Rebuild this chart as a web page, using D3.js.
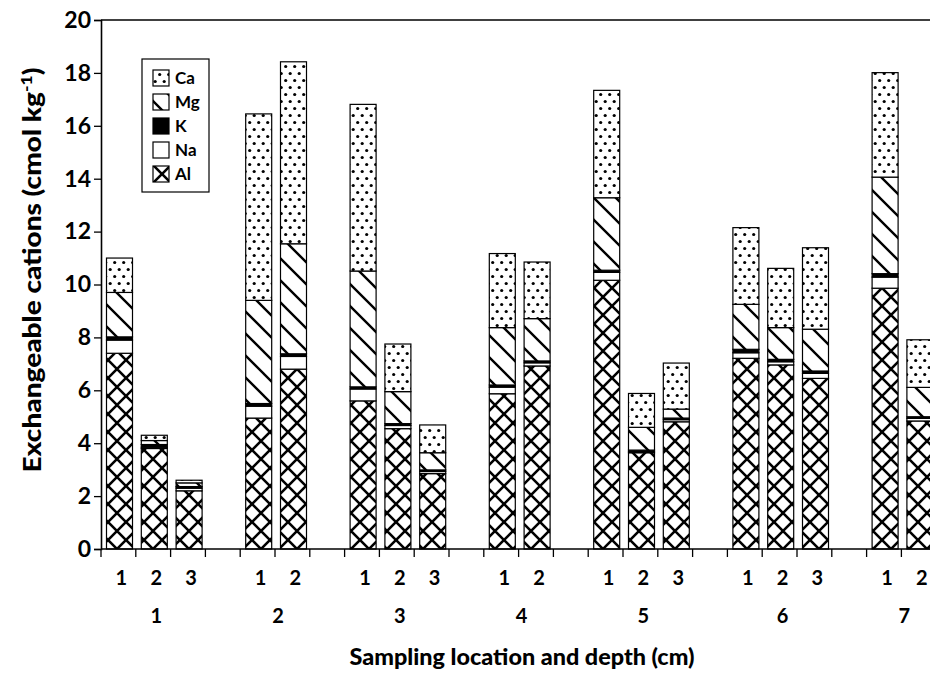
<!DOCTYPE html>
<html>
<head>
<meta charset="utf-8">
<script src="https://cdn.jsdelivr.net/npm/d3@7/dist/d3.min.js"></script>
<style>
    body { margin: 0; background: #fff; }
    svg { display: block; }
    text { font-family: Lato, 'DejaVu Sans', sans-serif; fill: #000; }
</style>
</head>
<body>
<svg id="chart" width="930" height="673"></svg>
<script>
'use strict';

// sampling locations and the depths taken at each one
var locations = ['1', '2', '3', '4', '5', '6', '7'];
var depthCounts = [3, 2, 3, 2, 3, 3, 2];

// cation series, one value per bar (cmol kg-1), bottom to top of each stack
var alValues = [7.40, 3.80, 2.20, 4.95, 6.80, 5.60, 4.55, 2.85, 5.87, 6.92, 10.16, 3.64, 4.81, 7.21, 6.96, 6.45, 9.86, 4.84];
var naValues = [0.50, 0.05, 0.10, 0.45, 0.48, 0.45, 0.12, 0.08, 0.25, 0.12, 0.30, 0.04, 0.08, 0.21, 0.12, 0.19, 0.42, 0.10];
var kValues  = [0.12, 0.10, 0.06, 0.10, 0.10, 0.08, 0.07, 0.06, 0.08, 0.07, 0.08, 0.06, 0.06, 0.13, 0.09, 0.09, 0.13, 0.06];
var mgValues = [1.68, 0.15, 0.14, 3.90, 4.16, 4.38, 1.21, 0.65, 2.17, 1.60, 2.74, 0.86, 0.34, 1.70, 1.20, 1.58, 3.65, 1.11];
var caValues = [1.30, 0.20, 0.10, 7.05, 6.88, 6.30, 1.80, 1.05, 2.80, 2.14, 4.06, 1.28, 1.74, 2.90, 2.24, 3.08, 3.95, 1.80];

var seriesKeys = ['Al', 'Na', 'K', 'Mg', 'Ca'];
var legendKeys = ['Ca', 'Mg', 'K', 'Na', 'Al'];
var yTicks = [0, 2, 4, 6, 8, 10, 12, 14, 16, 18, 20];

var svg = d3.select('#chart');

// ---- fill patterns ----
var defs = svg.append('defs');

function addPattern(id, size, draw) {
    var p = defs.append('pattern')
        .attr('id', id)
        .attr('patternUnits', 'userSpaceOnUse')
        .attr('width', size[0])
        .attr('height', size[1]);
    p.append('rect')
        .attr('width', size[0])
        .attr('height', size[1])
        .attr('fill', '#fff');
    draw(p);
}

addPattern('pat-Ca', [9, 14], function(p) {
    p.append('circle').attr('cx', 2.2).attr('cy', 3.5).attr('r', 1.6).attr('fill', '#000');
    p.append('circle').attr('cx', 6.7).attr('cy', 10.5).attr('r', 1.6).attr('fill', '#000');
});

addPattern('pat-Mg', [22, 22], function(p) {
    p.append('path')
        .attr('d', 'M-1,-1L23,23M21,-1L23,1M-1,21L1,23')
        .attr('stroke', '#000')
        .attr('stroke-width', 2.4);
});

addPattern('pat-Al', [18, 18], function(p) {
    p.append('path')
        .attr('d', 'M-1,-1L19,19M19,-1L-1,19')
        .attr('stroke', '#000')
        .attr('stroke-width', 2.6);
});

var fills = {
    Ca: 'url(#pat-Ca)',
    Mg: 'url(#pat-Mg)',
    K: '#000',
    Na: '#fff',
    Al: 'url(#pat-Al)'
};

// ---- bar slots: each location's bars followed by an empty gap slot ----
var bars = [];
var slots = [];
var groupInfo = [];
var barIndex = 0;

locations.forEach(function(loc, gi) {
    var first = slots.length;
    for (var d = 0; d < depthCounts[gi]; d++) {
        var slot = slots.length;
        slots.push(slot);
        bars.push({
            slot: slot,
            depth: String(d + 1),
            Al: alValues[barIndex],
            Na: naValues[barIndex],
            K: kValues[barIndex],
            Mg: mgValues[barIndex],
            Ca: caValues[barIndex]
        });
        barIndex++;
    }
    groupInfo.push({label: loc, first: first, last: slots.length - 1});
    if (gi < locations.length - 1) {
        slots.push(slots.length);
    }
});

var x = d3.scaleBand()
    .domain(slots)
    .range([101, 101 + 34.8 * slots.length])
    .padding(0);

var y = d3.scaleLinear()
    .domain([0, 20])
    .range([549, 20]);

var barOffset = 5.5;
var barWidth = 26;

var stacked = d3.stack().keys(seriesKeys)(bars);

var layers = svg.append('g').attr('class', 'bars');

stacked.forEach(function(layer) {
    layers.append('g')
        .selectAll('rect')
        .data(layer)
        .join('rect')
        .attr('x', function(d) { return x(d.data.slot) + barOffset; })
        .attr('y', function(d) { return y(d[1]); })
        .attr('width', barWidth)
        .attr('height', function(d) { return y(d[0]) - y(d[1]); })
        .attr('fill', fills[layer.key])
        .attr('stroke', '#000')
        .attr('stroke-width', 1.2);
});

// ---- axes ----
var axisG = svg.append('g').attr('class', 'axes');

var yAxis = d3.axisLeft(y)
    .tickValues(yTicks)
    .tickSize(7)
    .tickPadding(3)
    .tickFormat(d3.format('d'));

axisG.append('g')
    .attr('transform', 'translate(101,0)')
    .call(yAxis)
    .call(function(g) {
        g.select('.domain').attr('stroke-width', 1.6);
        g.selectAll('.tick line').attr('stroke-width', 1.3);
        g.selectAll('.tick text')
            .attr('font-size', 23)
            .attr('font-weight', 700)
            .attr('font-family', 'Lato, sans-serif');
    });

// top frame line
axisG.append('line')
    .attr('x1', 101).attr('x2', 930)
    .attr('y1', y(20)).attr('y2', y(20))
    .attr('stroke', '#000')
    .attr('stroke-width', 1.6);

// x axis: baseline plus a tick at every slot boundary
var boundaries = d3.range(slots.length + 1);

axisG.append('line')
    .attr('x1', 101).attr('x2', 930)
    .attr('y1', y(0)).attr('y2', y(0))
    .attr('stroke', '#000')
    .attr('stroke-width', 1.6);

axisG.append('g')
    .selectAll('line')
    .data(boundaries)
    .join('line')
    .attr('x1', function(b) { return 101 + b * x.step(); })
    .attr('x2', function(b) { return 101 + b * x.step(); })
    .attr('y1', y(0))
    .attr('y2', y(0) + 8)
    .attr('stroke', '#000')
    .attr('stroke-width', 1.3);

axisG.append('g')
    .selectAll('text')
    .data(bars)
    .join('text')
    .attr('x', function(d) { return x(d.slot) + x.bandwidth() / 2 + 3; })
    .attr('y', 585)
    .attr('text-anchor', 'middle')
    .attr('font-size', 20)
    .attr('font-weight', 700)
    .text(function(d) { return d.depth; });

axisG.append('g')
    .selectAll('text')
    .data(groupInfo)
    .join('text')
    .attr('x', function(g) { return (x(g.first) + x(g.last) + x.bandwidth()) / 2 + 3; })
    .attr('y', 623)
    .attr('text-anchor', 'middle')
    .attr('font-size', 20)
    .attr('font-weight', 700)
    .text(function(g) { return g.label; });

// ---- axis titles ----
svg.append('text')
    .attr('x', 522)
    .attr('y', 665)
    .attr('text-anchor', 'middle')
    .attr('font-size', 23)
    .attr('font-weight', 900)
    .attr('textLength', 345)
    .attr('lengthAdjust', 'spacingAndGlyphs')
    .text('Sampling location and depth (cm)');

var yTitle = svg.append('text')
    .attr('transform', 'translate(41,270) rotate(-90)')
    .attr('text-anchor', 'middle')
    .attr('font-size', 24)
    .attr('font-weight', 900)
    .attr('textLength', 405)
    .attr('lengthAdjust', 'spacingAndGlyphs');

yTitle.append('tspan').text('Exchangeable cations (cmol kg');
yTitle.append('tspan').attr('dy', -9).attr('font-size', 15).text('-1');
yTitle.append('tspan').attr('dy', 9).text(')');

// ---- legend ----
var legend = svg.append('g').attr('class', 'legend');

legend.append('rect')
    .attr('x', 142).attr('y', 59)
    .attr('width', 67).attr('height', 133)
    .attr('fill', '#fff')
    .attr('stroke', '#000')
    .attr('stroke-width', 1.2);

var legendRow = d3.scalePoint()
    .domain(legendKeys)
    .range([78, 174]);

var items = legend.selectAll('g.item')
    .data(legendKeys)
    .join('g')
    .attr('class', 'item')
    .attr('transform', function(k) { return 'translate(0,' + legendRow(k) + ')'; });

items.append('rect')
    .attr('x', 153).attr('y', -8)
    .attr('width', 16).attr('height', 16)
    .attr('fill', function(k) { return fills[k]; })
    .attr('stroke', '#000')
    .attr('stroke-width', 1.2);

items.append('text')
    .attr('x', 175)
    .attr('y', 6)
    .attr('font-size', 17)
    .attr('font-weight', 700)
    .text(function(k) { return k; });
</script>
</body>
</html>
